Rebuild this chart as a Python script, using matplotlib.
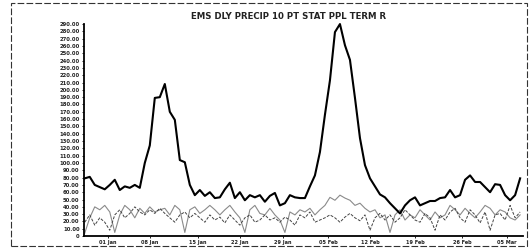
import matplotlib
matplotlib.use("Agg")
import matplotlib.pyplot as plt
from matplotlib.patches import Rectangle
from matplotlib.ticker import FuncFormatter

# readings, one sample every ~5 px of the original scan
main_series = [79, 81, 70, 67, 64, 70, 77, 63, 68, 66, 70, 66, 100, 124, 189, 190,
               208, 170, 159, 104, 101, 70, 56, 63, 55, 60, 52, 53, 64, 73, 52, 60,
               49, 56, 53, 56, 47, 55, 59, 42, 45, 56, 53, 52, 52, 68, 83, 115,
               166, 213, 279, 290, 261, 241, 189, 134, 97, 79, 68, 57, 53, 45,
               38, 31, 42, 49, 53, 42, 45, 48, 48, 52, 53, 63, 53, 56, 77, 83,
               74, 74, 67, 60, 71, 70, 56, 49, 56, 79]
gray_series = [4, 25, 40, 36, 42, 33, 5, 29, 42, 36, 25, 38, 31, 40, 33, 36,
               38, 29, 42, 36, 5, 36, 40, 31, 36, 42, 36, 29, 36, 42, 33, 25,
               5, 36, 42, 31, 29, 38, 29, 22, 5, 33, 29, 36, 33, 38, 29, 36,
               42, 53, 49, 56, 52, 49, 42, 45, 38, 33, 36, 25, 29, 5, 29, 36,
               22, 29, 25, 36, 29, 22, 33, 25, 29, 42, 36, 29, 38, 31, 25, 33,
               42, 38, 29, 36, 33, 25, 22, 29]
dash_series = [19, 29, 15, 25, 19, 8, 29, 36, 25, 31, 40, 33, 29, 36, 31, 38,
               31, 25, 19, 29, 33, 25, 31, 25, 19, 29, 22, 26, 18, 29, 22, 15,
               25, 29, 19, 22, 29, 22, 25, 19, 26, 22, 15, 29, 25, 33, 19, 22,
               25, 29, 25, 19, 26, 31, 25, 21, 29, 8, 25, 31, 22, 29, 19, 25,
               36, 29, 22, 19, 31, 25, 8, 29, 22, 33, 38, 25, 19, 36, 29, 18,
               33, 8, 29, 31, 22, 42, 25, 33]
x_ticks = [4.6, 13, 22.6, 31, 39.6, 48.6, 57, 66, 75.4, 84.4]
x_labels = ["01 Jan", "08 Jan", "15 Jan", "22 Jan", "29 Jan",
            "05 Feb", "12 Feb", "19 Feb", "26 Feb", "05 Mar"]
title = "EMS DLY PRECIP 10 PT STAT PPL TERM R"

x = list(range(len(main_series)))

fig = plt.figure(figsize=(5.30, 2.48), dpi=100)
ax = fig.add_axes([0.158, 0.048, 0.829, 0.855])

ax.plot(x, gray_series, color="#8a8a8a", lw=0.8)
ax.plot(x, dash_series, color="#444444", lw=0.7, dashes=(3, 1.5))
ax.plot(x, main_series, color="black", lw=1.5, clip_on=False)

ax.set_xlim(-0.2, 87.6)
ax.set_ylim(0, 290)
ax.set_yticks(range(0, 291, 10))
ax.yaxis.set_major_formatter(FuncFormatter(lambda v, p: "0" if v == 0 else f"{v:.2f}"))
ax.set_xticks(x_ticks)
ax.set_xticklabels(x_labels, fontweight="bold")
for lab in ax.get_yticklabels():
    lab.set_fontweight("bold")
ax.tick_params(axis="y", labelsize=3.8, length=1.5, width=0.6, pad=1.5, labelcolor="#222222")
ax.tick_params(axis="x", labelsize=3.6, length=1.5, width=0.6, pad=1.5, labelcolor="#222222")

for s in ["top", "right"]:
    ax.spines[s].set_visible(False)
ax.spines["left"].set_linewidth(1.3)
ax.spines["bottom"].set_linewidth(1.3)

fig.text(0.545, 0.915, title, fontsize=6.2, fontweight="bold", ha="center", va="bottom",
         color="#222222")

# scanned page frame
fig.patches.append(Rectangle((0.02, 0.008), 0.975, 0.978, transform=fig.transFigure,
                             fill=False, ec="#333333", lw=0.8, ls=(0, (6, 2))))

fig.savefig("out.png", dpi=100, facecolor="white")
